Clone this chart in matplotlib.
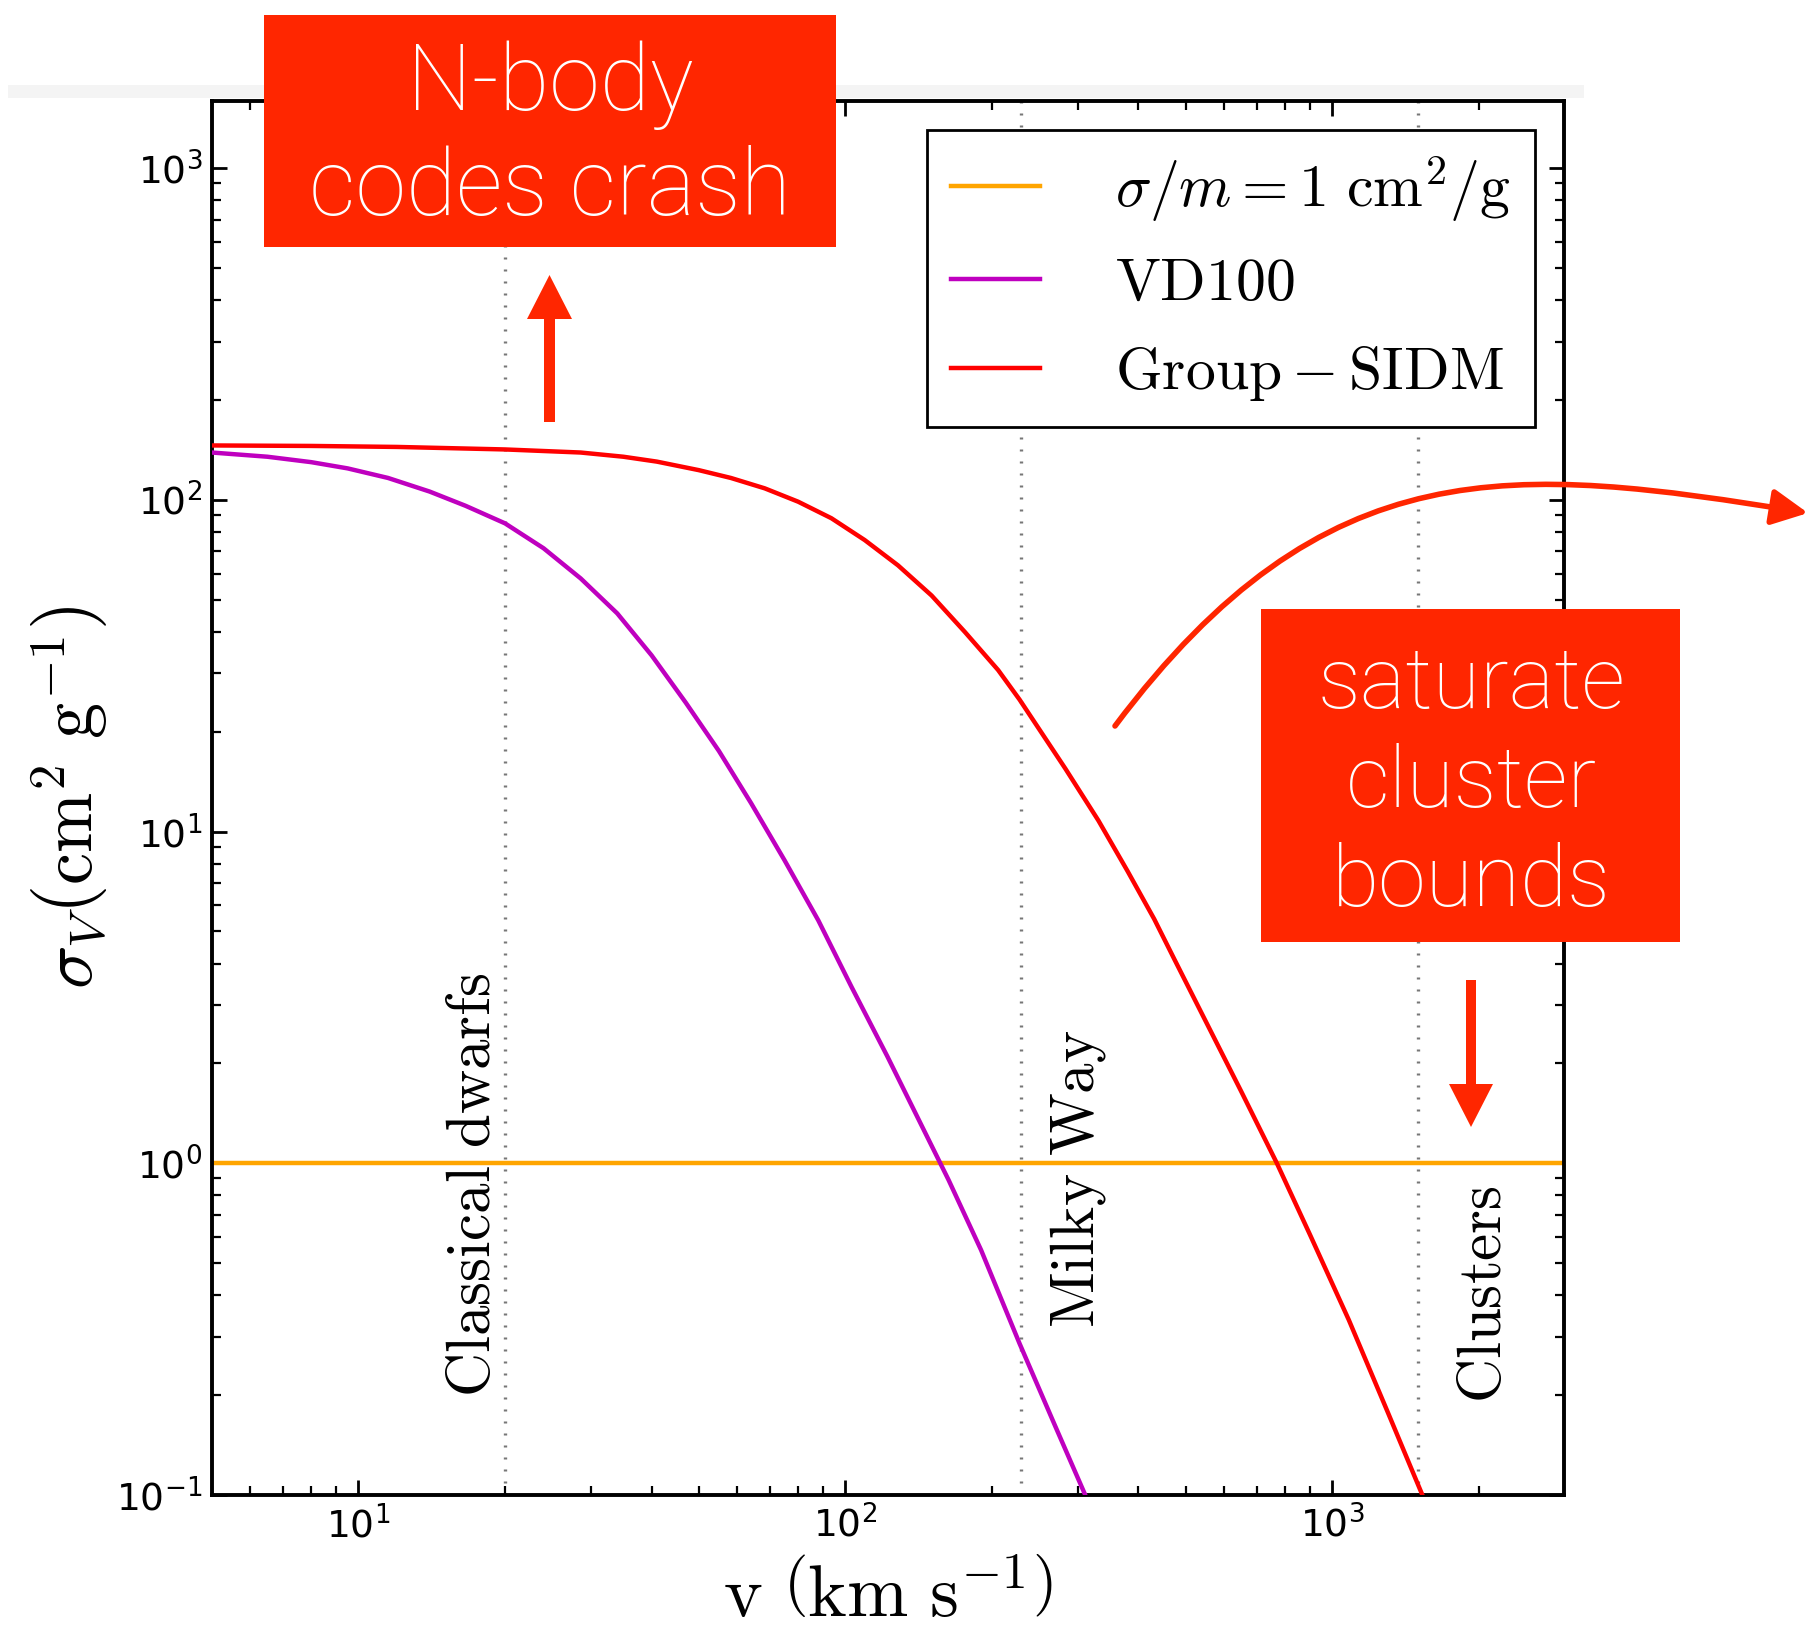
import matplotlib
matplotlib.use('Agg')
import matplotlib.pyplot as plt
from matplotlib.patches import Rectangle, FancyArrow, FancyArrowPatch
from matplotlib.path import Path

plt.rcParams['mathtext.fontset'] = 'cm'
plt.rcParams['font.family'] = ['DejaVu Sans']
plt.rcParams['axes.unicode_minus'] = False

# velocity-averaged cross sections, v in km/s, sigma_V in cm^2/g
vd100_v = [5, 6.5, 8, 9.5, 11.5, 14, 16.6, 20, 24, 28.6, 34, 40, 47, 55, 64, 75, 88, 103,
           122, 163, 190, 228, 270, 311]
vd100_sigma = [139, 135, 130, 124.5, 116.5, 106, 96, 85, 71.5, 58, 45.5, 34.0, 24.5, 17.5,
               12.2, 8.2, 5.4, 3.4, 2.1, 0.89, 0.548, 0.286, 0.161, 0.1]

group_v = [5, 8, 12, 20, 28.6, 35, 41, 50, 58.2, 68.3, 80, 93.6, 109.6, 128.3, 150.4, 176,
           206, 228, 283, 331, 380, 431, 475, 523, 650, 770, 900, 1082, 1300, 1532]
group_sigma = [146, 145.5, 144.5, 142, 139, 135, 130.5, 123, 116.5, 108.4, 98.8, 88.1, 75.7,
               63.5, 51.5, 40, 30.7, 25, 15.5, 10.8, 7.6, 5.45, 4.1, 3.1, 1.65, 1.0, 0.61,
               0.337, 0.178, 0.1]

constant_sigma = 1.0

# typical velocities of the three halo classes
region_names = ['Classical\\ dwarfs', 'Milky\\ Way', 'Clusters']
region_v = [20, 230, 1500]

W, H = 1813, 1641
RED = '#ff2600'

fig = plt.figure(figsize=(W / 100, H / 100), dpi=100)
ax = fig.add_axes([0.1169, 0.0890, 0.7460, 0.8497])
ax.set_xscale('log')
ax.set_yscale('log')

for v in region_v:
    ax.axvline(v, color='#777777', ls=(0, (0.6, 3.0)), lw=2.4, zorder=1)

ax.axhline(constant_sigma, color='orange', lw=3.2, zorder=2,
           label=r'$\sigma/m = %g\ \mathrm{cm}^2/\mathrm{g}$' % constant_sigma)
ax.plot(vd100_v, vd100_sigma, color='m', lw=3.2, zorder=3, label=r'$\mathrm{VD100}$')
ax.plot(group_v, group_sigma, color='r', lw=3.2, zorder=3, label=r'$\mathrm{Group-SIDM}$')

ax.set_xlim(5, 3000)
ax.set_ylim(0.1, 1600)

# region labels along the dotted lines
label_pos = [(17.2, 0.198), (301, 0.319), (2060, 0.189)]
for name, (x, y) in zip(region_names, label_pos):
    ax.text(x, y, r'$\mathrm{%s}$' % name, rotation=90, ha='center', va='bottom', fontsize=44)

leg = ax.legend(loc='upper right', fontsize=43, handlelength=1.5, handletextpad=1.25,
                labelspacing=0.5, borderpad=0.4, fancybox=False, framealpha=1,
                edgecolor='black')
leg.get_frame().set_linewidth(2)

ax.set_xlabel(r'$\mathrm{v}\ \left(\mathrm{km\ s}^{-1}\right)$', fontsize=53, labelpad=10)
ax.set_ylabel(r'$\sigma_V\left(\mathrm{cm}^2\ \mathrm{g}^{-1}\right)$', fontsize=52, labelpad=4)

ax.tick_params(which='both', direction='in', top=True, right=True)
ax.tick_params(which='major', length=11, width=2, labelsize=27)
ax.tick_params(which='minor', length=6.5, width=1.6)
ax.tick_params(axis='x', which='major', pad=8)
ax.tick_params(axis='y', which='major', pad=7)
for s in ax.spines.values():
    s.set_linewidth(2.8)

# annotation layer in figure pixels
ov = fig.add_axes([0, 0, 1, 1], zorder=5)
ov.set_xlim(0, W)
ov.set_ylim(H, 0)
ov.axis('off')

ov.add_patch(Rectangle((8, 85), 1576, 13, color='#f4f4f4', lw=0))

ov.add_patch(Rectangle((264, 15), 572, 232, color=RED, lw=0))
ov.text(550, 137, 'N-body\ncodes crash', ha='center', va='center', color='white',
        fontsize=66, family='Roboto', fontweight='light', linespacing=1.22)

ov.add_patch(Rectangle((1261, 609), 419, 333, color=RED, lw=0))
ov.text(1471, 784, 'saturate\ncluster\nbounds', ha='center', va='center', color='white',
        fontsize=62, family='Roboto', fontweight='light', linespacing=1.27)

ov.add_patch(FancyArrow(549.5, 422, 0, -147, width=11, head_width=45, head_length=44,
                        length_includes_head=True, color=RED, lw=0))
ov.add_patch(FancyArrow(1471, 980, 0, 147, width=10, head_width=44, head_length=43,
                        length_includes_head=True, color=RED, lw=0))

curve = Path([(1115, 726), (1325, 446), (1513, 465), (1808, 513)],
             [Path.MOVETO, Path.CURVE4, Path.CURVE4, Path.CURVE4])
ov.add_patch(FancyArrowPatch(path=curve, arrowstyle='-|>,head_length=22,head_width=11',
                             mutation_scale=1, color=RED, lw=4))

fig.savefig('out.png', dpi=100)
